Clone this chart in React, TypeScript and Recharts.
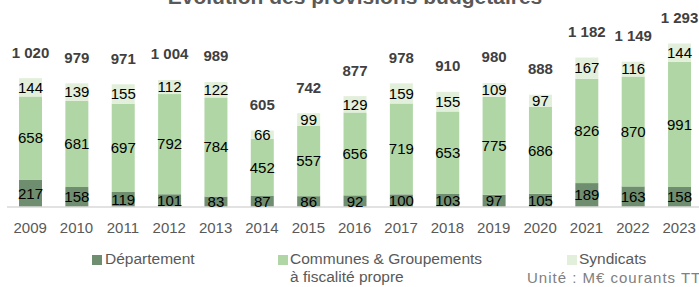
import { BarChart, Bar, XAxis, YAxis, LabelList, Legend } from 'recharts'

const years = ['2009','2010','2011','2012','2013','2014','2015','2016','2017','2018','2019','2020','2021','2022','2023']
const departement = [217,158,119,101,83,87,86,92,100,103,97,105,189,163,158]
const communes = [658,681,697,792,784,452,557,656,719,653,775,686,826,870,991]
const syndicats = [144,139,155,112,122,66,99,129,159,155,109,97,167,116,144]
const totals = [1020,979,971,1004,989,605,742,877,978,910,980,888,1182,1149,1293]

const COLORS = {
  departement: '#6f8e70',
  communes:    '#b0d6a6',
  syndicats:   '#e2efda',
}

const FONT = '"Liberation Sans", Arial, sans-serif'

const data = years.map((year, i) => ({
  year,
  departement: departement[i],
  communes: communes[i],
  syndicats: syndicats[i],
  total: totals[i],
}))

const fmt = (v: number) => v >= 1000 ? `${Math.floor(v / 1000)} ${String(v % 1000).padStart(3, '0')}` : String(v)

const TotalLabel = (props: any) => {
  const { x, y, width, value } = props
  return (
    <text x={Number(x) + Number(width) / 2} y={Number(y) - 20.6} textAnchor="middle"
      fontFamily={FONT} fontSize={15} fontWeight="bold" fill="#404040">
      {fmt(value)}
    </text>
  )
}

const LegendBox = () => (
  <svg width={699} height={42} style={{ display: 'block' }}>
    <rect x={92} y={10} width={10} height={10} fill={COLORS.departement} />
    <text x={105} y={19} fontFamily={FONT} fontSize={15.5} fill="#595959">Département</text>
    <rect x={278} y={10} width={10} height={10} fill={COLORS.communes} />
    <text x={290} y={19} fontFamily={FONT} fontSize={15.5} fill="#595959">Communes &amp; Groupements</text>
    <text x={290} y={37} fontFamily={FONT} fontSize={15.5} fill="#595959">à fiscalité propre</text>
    <rect x={567} y={10} width={10} height={10} fill={COLORS.syndicats} />
    <text x={579} y={19} fontFamily={FONT} fontSize={15.5} fill="#595959">Syndicats</text>
    <text x={527} y={38} fontFamily={FONT} fontSize={15} fill="#808080" letterSpacing={1}>Unité : M€ courants TTC</text>
  </svg>
)

export default function App() {
  return (
    <div style={{ position: 'absolute', left: 0, top: 0, width: 699, height: 287, overflow: 'hidden', background: '#fff' }}>
      <div style={{ position: 'absolute', left: 0, top: -14, width: 710, textAlign: 'center', fontFamily: FONT,
        fontSize: 21, lineHeight: '21px', fontWeight: 'bold', color: '#595959', zIndex: 2 }}>
        Évolution des provisions budgétaires
      </div>
      <BarChart width={710} height={287} data={data} margin={{ top: 30, right: 7.6, bottom: 50, left: 7 }}>
        <XAxis dataKey="year" tickLine={false} axisLine={{ stroke: '#d9d9d9', strokeWidth: 1.5 }}
          tickMargin={9} interval={0}
          tick={{ fontFamily: FONT, fontSize: 15, fill: '#595959' }} />
        <YAxis hide domain={[0, 1400]} />
        <Legend layout="horizontal" verticalAlign="middle" align="center"
          wrapperStyle={{ top: 245, left: 0, width: 699, height: 42 }}
          content={() => <LegendBox />} />
        <Bar dataKey="departement" stackId="a" fill={COLORS.departement} barSize={23} isAnimationActive={false}>
          <LabelList dataKey="departement" position="center" fontFamily={FONT} fontSize={15} fill="#000" />
        </Bar>
        <Bar dataKey="communes" stackId="a" fill={COLORS.communes} barSize={23} isAnimationActive={false}>
          <LabelList dataKey="communes" position="center" fontFamily={FONT} fontSize={15} fill="#000" />
        </Bar>
        <Bar dataKey="syndicats" stackId="a" fill={COLORS.syndicats} barSize={23} isAnimationActive={false}>
          <LabelList dataKey="syndicats" position="center" fontFamily={FONT} fontSize={15} fill="#000" />
          <LabelList dataKey="total" content={TotalLabel} />
        </Bar>
      </BarChart>
    </div>
  )
}
